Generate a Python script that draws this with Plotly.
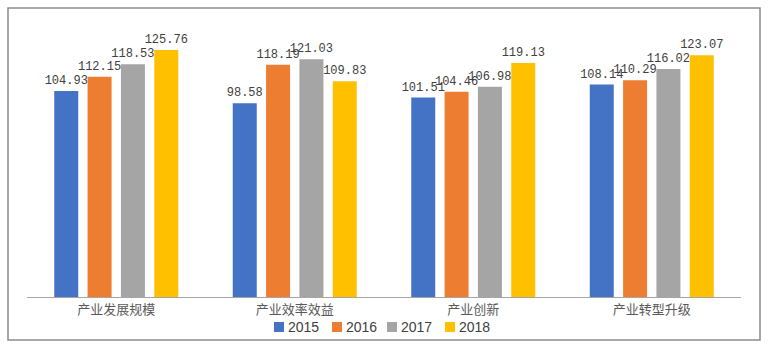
import plotly.graph_objects as go

# Category labels and yearly index values
categories = ["产业发展规模", "产业效率效益", "产业创新", "产业转型升级"]
years = ["2015", "2016", "2017", "2018"]
values_2015 = [104.93, 98.58, 101.51, 108.14]
values_2016 = [112.15, 118.19, 104.46, 110.29]
values_2017 = [118.53, 121.03, 106.98, 116.02]
values_2018 = [125.76, 109.83, 119.13, 123.07]

series = [values_2015, values_2016, values_2017, values_2018]
colors = ["#4472C4", "#ED7D31", "#A5A5A5", "#FFC000"]

fig = go.Figure()
for name, vals, col in zip(years, series, colors):
    fig.add_trace(go.Bar(
        x=categories, y=vals, name=name, showlegend=False,
        marker=dict(color=col, line=dict(width=0)),
        text=vals, texttemplate="%{y:.2f}", textposition="outside",
        constraintext="none", cliponaxis=False,
        textfont=dict(family="Liberation Mono", size=12, color="#404040"),
    ))

W, H = 773, 349
ml, mr, mt, mb = 27, 32, 22, 52
pw, ph = W - ml - mr, H - mt - mb

def px_x(p):
    return (p - ml) / pw

def px_y(p):
    return (H - mb - p) / ph

# Compact legend row below the category labels
shapes = [dict(type="rect", xref="paper", yref="paper",
               x0=px_x(8), x1=px_x(760), y0=px_y(340), y1=px_y(8),
               line=dict(color="#8C8C8C", width=1.5), layer="below")]
annotations = []
legend_left = [274, 332, 387, 445]
for name, col, lx in zip(years, colors, legend_left):
    shapes.append(dict(type="rect", xref="paper", yref="paper",
                       x0=px_x(lx), x1=px_x(lx + 10),
                       y0=px_y(332), y1=px_y(322),
                       fillcolor=col, line=dict(width=0)))
    annotations.append(dict(xref="paper", yref="paper",
                            x=px_x(lx + 12), y=px_y(327),
                            xanchor="left", yanchor="middle", showarrow=False,
                            text=name,
                            font=dict(family="Liberation Sans", size=14,
                                      color="#404040")))

fig.update_layout(
    width=W, height=H,
    margin=dict(l=ml, r=mr, t=mt, b=mb),
    paper_bgcolor="white", plot_bgcolor="white",
    barmode="group", bargap=0.253, bargroupgap=0.28,
    showlegend=False,
    xaxis=dict(showline=True, linecolor="#A6A6A6", linewidth=1,
               ticks="", showgrid=False,
               tickfont=dict(family="Noto Sans CJK SC", size=13, color="#595959")),
    yaxis=dict(range=[0, 140], showticklabels=False, showgrid=False,
               zeroline=False, showline=False),
    shapes=shapes,
    annotations=annotations,
)

fig.write_html("out.html")
